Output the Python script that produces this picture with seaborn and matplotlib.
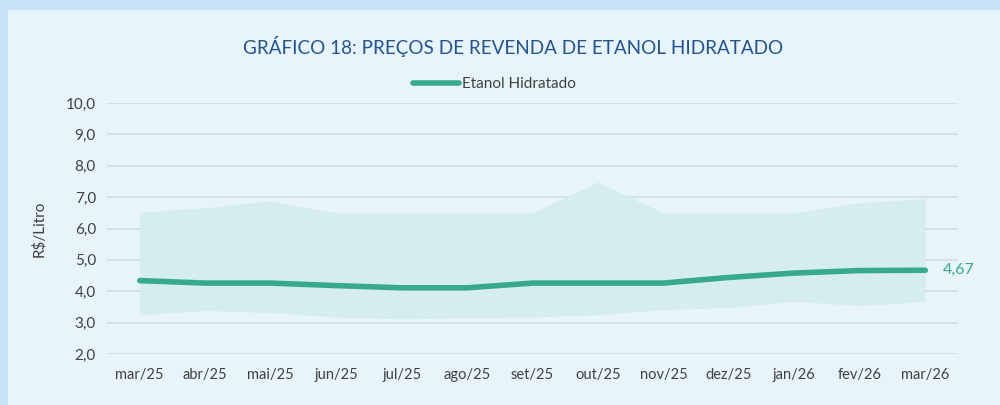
import pandas as pd
import matplotlib.pyplot as plt
import seaborn as sns
from matplotlib.patches import Rectangle

# DATA
meses = ['mar/25', 'abr/25', 'mai/25', 'jun/25', 'jul/25', 'ago/25', 'set/25',
         'out/25', 'nov/25', 'dez/25', 'jan/26', 'fev/26', 'mar/26']
etanol = [4.34, 4.26, 4.26, 4.18, 4.11, 4.11, 4.26, 4.26, 4.26, 4.44, 4.58, 4.66, 4.67]
maximo = [6.52, 6.66, 6.88, 6.50, 6.50, 6.50, 6.50, 7.48, 6.50, 6.50, 6.50, 6.82, 6.95]
minimo = [3.25, 3.39, 3.32, 3.18, 3.12, 3.16, 3.18, 3.25, 3.42, 3.48, 3.68, 3.54, 3.68]
y_ticks = [2, 3, 4, 5, 6, 7, 8, 9, 10]

df = pd.DataFrame({'mes': meses, 'idx': range(len(meses)),
                   'preco': etanol, 'max': maximo, 'min': minimo})

# STYLE
sns.set_style("white")
plt.rcParams['font.family'] = ['Lato', 'DejaVu Sans']

verde = '#37a98f'
fig = plt.figure(figsize=(10, 4.05), dpi=100, facecolor='#c5e3f5')
fig.patches.append(Rectangle((0.008, 0), 0.992, 395 / 405, transform=fig.transFigure,
                             facecolor='#e8f4fb', edgecolor='none', zorder=-10))

ax = fig.add_axes([0.107, 0.1259, 0.851, 0.6198])
ax.set_facecolor('none')

# faixa min-max
ax.fill_between(df['idx'], df['min'], df['max'], color='#d5ecf1', linewidth=0, zorder=1)

# linha principal
sns.lineplot(data=df, x='idx', y='preco', ax=ax, color=verde, linewidth=4,
             solid_capstyle='round', label='Etanol Hidratado', zorder=3)

ax.text(df['idx'].iloc[-1] + 0.27, df['preco'].iloc[-1], f"{etanol[-1]:.2f}".replace('.', ','),
        color=verde, fontsize=11.5, va='center', ha='left')

ax.set_xlim(-0.5, len(meses) - 0.5)
ax.set_ylim(2, 10)
ax.set_yticks(y_ticks)
ax.set_yticklabels([f"{v:.1f}".replace('.', ',') for v in y_ticks], fontsize=11, color='#404040')
ax.set_xticks(df['idx'])
ax.set_xticklabels(meses, fontsize=10.5, color='#404040')
ax.tick_params(axis='both', length=0, pad=8)
ax.tick_params(axis='x', pad=10)
ax.grid(axis='y', color='#d2dfe7', linewidth=1.3, zorder=0)
ax.set_axisbelow(True)
for s in ax.spines.values():
    s.set_visible(False)
ax.set_xlabel('')
ax.set_ylabel('R$/Litro', fontsize=11, color='#404040', labelpad=14)

leg = ax.legend(loc='center', bbox_to_anchor=(0.455, 1.075), frameon=False,
                fontsize=11, handlelength=3.0, handletextpad=0.2)
for t in leg.get_texts():
    t.set_color('#404040')

fig.text(0.513, 0.886, 'GRÁFICO 18: PREÇOS DE REVENDA DE ETANOL HIDRATADO',
         ha='center', va='center', fontsize=13.6, color='#24548f')

fig.savefig('out.png', dpi=100, facecolor=fig.get_facecolor())
